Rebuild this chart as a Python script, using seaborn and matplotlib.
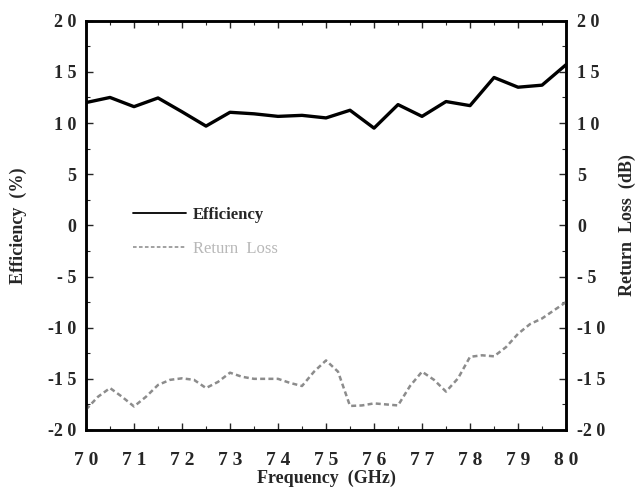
import numpy as np
import pandas as pd
import seaborn as sns
import matplotlib.pyplot as plt
from matplotlib.lines import Line2D
from matplotlib.ticker import MultipleLocator

# data
eff_freq = [70.0, 70.5, 71.0, 71.5, 72.0, 72.5, 73.0, 73.5, 74.0, 74.5,
            75.0, 75.5, 76.0, 76.5, 77.0, 77.5, 78.0, 78.5, 79.0, 79.5, 80.0]
efficiency = [12.0, 12.5, 11.6, 12.45, 11.1, 9.7, 11.05, 10.9, 10.65, 10.75,
              10.5, 11.25, 9.5, 11.8, 10.65, 12.1, 11.7, 14.45, 13.5, 13.7, 15.7]

rl_freq = [70.0, 70.25, 70.5, 70.75, 71.0, 71.25, 71.5, 71.75, 72.0, 72.25,
           72.5, 72.75, 73.0, 73.25, 73.5, 74.0, 74.25, 74.5, 74.75, 75.0,
           75.25, 75.5, 75.75, 76.0, 76.25, 76.5, 76.75, 77.0, 77.25, 77.5,
           77.75, 78.0, 78.25, 78.5, 78.75, 79.0, 79.25, 79.5, 80.0]
return_loss = [-18.0, -16.75, -15.9, -16.75, -17.7, -16.75, -15.6, -15.1, -14.95, -15.1,
               -15.9, -15.3, -14.4, -14.8, -15.0, -15.0, -15.4, -15.7, -14.3, -13.2,
               -14.3, -17.65, -17.6, -17.4, -17.5, -17.6, -15.7, -14.3, -15.1, -16.25,
               -14.95, -12.85, -12.7, -12.8, -11.9, -10.6, -9.65, -9.1, -7.5]

x_ticks = [70, 71, 72, 73, 74, 75, 76, 77, 78, 79, 80]
x_labels = ["7 0", "7 1", "7 2", "7 3", "7 4", "7 5", "7 6", "7 7", "7 8", "7 9", "8 0"]
y_ticks = [20, 15, 10, 5, 0, -5, -10, -15, -20]
y_labels = ["2 0", "1 5", "1 0", "5", "0", "- 5", "-1 0", "-1 5", "-2 0"]

df_eff = pd.DataFrame({"freq": eff_freq, "val": efficiency})
df_rl = pd.DataFrame({"freq": rl_freq, "val": return_loss})

sns.set_style("ticks")
plt.rcParams["font.family"] = ["Liberation Serif", "DejaVu Serif"]
plt.rcParams["font.weight"] = "bold"

fig = plt.figure(figsize=(6.38, 4.93), dpi=100)
ax = fig.add_axes([0.1348, 0.1278, 0.7524, 0.8302])
ax2 = ax.twinx()

sns.lineplot(data=df_eff, x="freq", y="val", ax=ax, color="black", linewidth=2.4)
sns.lineplot(data=df_rl, x="freq", y="val", ax=ax2, color="#8c8c8c",
             linewidth=1.8, linestyle=(0, (2, 1.3)))

for a in (ax, ax2):
    a.set_xlim(70, 80)
    a.set_ylim(-20, 20)
    a.set_yticks(y_ticks)
    a.set_yticklabels(y_labels, fontsize=13, fontweight="bold")
    a.yaxis.set_minor_locator(MultipleLocator(2.5))
    a.tick_params(axis="y", which="major", direction="in", length=5, width=1)
    a.tick_params(axis="y", which="minor", direction="in", length=3, width=0.8)
    for s in a.spines.values():
        s.set_linewidth(1.8)
        s.set_color("black")

ax.set_xticks(x_ticks)
ax.set_xticklabels(x_labels, fontsize=14, fontweight="bold")
ax.xaxis.set_minor_locator(MultipleLocator(0.5))
ax.tick_params(axis="x", which="major", direction="in", length=5, width=1,
               top=True, pad=16)
ax.tick_params(axis="x", which="minor", direction="in", length=3, width=0.8, top=True)
ax.tick_params(axis="y", pad=7)
ax2.tick_params(axis="y", pad=8)

ax.set_xlabel("Frequency  (GHz)", fontsize=13, fontweight="bold")
ax.set_ylabel("Efficiency  (%)", fontsize=13, fontweight="bold")
ax2.set_ylabel("Return  Loss  (dB)", fontsize=13, fontweight="bold")
ax.xaxis.set_label_coords(0.5, -0.097)
ax.yaxis.set_label_coords(-0.123, 0.5)
ax2.yaxis.set_label_coords(1.11, 0.5)

handles = [Line2D([], [], color="black", linewidth=1.3),
           Line2D([], [], color="#9a9a9a", linewidth=1.3, linestyle=(0, (2, 1.3)))]
leg = ax.legend(handles, ["Efficiency", "Return  Loss"], loc="upper left",
                bbox_to_anchor=(0.083, 0.562), frameon=False, fontsize=12,
                handlelength=3.2, handletextpad=0.4, labelspacing=1.1,
                borderaxespad=0)
leg.get_texts()[1].set_color("#b8b8b8")
leg.get_texts()[1].set_fontweight("normal")

fig.savefig("out.png", dpi=100)
